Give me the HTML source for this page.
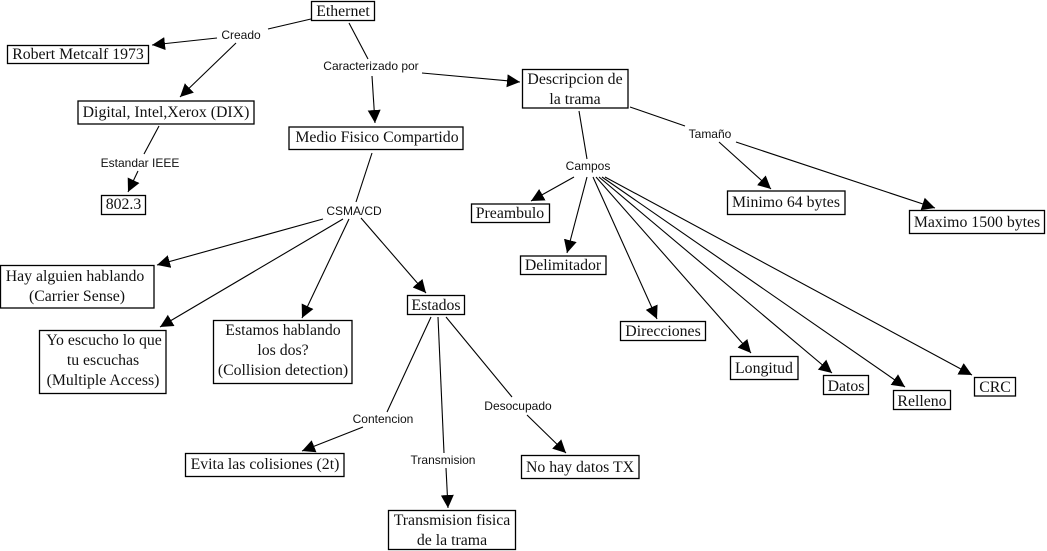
<!DOCTYPE html>
<html><head><meta charset="utf-8"><style>
html,body{margin:0;padding:0;background:#fff;width:1047px;height:551px;overflow:hidden}
svg{display:block}
.n rect{fill:#fff;stroke:#000;stroke-width:1.3}
.n text{font-family:"Liberation Serif",serif;font-size:15.8px;fill:#111;text-anchor:middle}
.l text{font-family:"Liberation Sans",sans-serif;font-size:12px;fill:#111;text-anchor:middle}
.e line{stroke:#000;stroke-width:1.1}
.a line{marker-end:url(#h)}
</style></head><body>
<svg width="1047" height="551" viewBox="0 0 1047 551" xmlns="http://www.w3.org/2000/svg">
<defs><marker id="h" markerUnits="userSpaceOnUse" markerWidth="16" markerHeight="16" refX="13" refY="6.5" orient="auto"><path d="M0 0L13 6.5L0 13z" fill="#000"/></marker></defs>
<g class="e">
<line x1="311" y1="19" x2="268" y2="29"/>
<line x1="159" y1="126" x2="144" y2="154"/>
<line x1="349" y1="23" x2="368" y2="59"/>
<line x1="579" y1="111" x2="587" y2="159"/>
<line x1="630" y1="107" x2="685" y2="126"/>
<line x1="372" y1="153" x2="356" y2="202"/>
<line x1="431" y1="317" x2="387" y2="412"/>
<line x1="438" y1="317" x2="444" y2="453"/>
<line x1="446" y1="317" x2="512" y2="397"/>
</g>
<g class="e a">
<line x1="217" y1="38" x2="152" y2="45"/>
<line x1="236" y1="43" x2="180" y2="97"/>
<line x1="138" y1="171" x2="128" y2="192"/>
<line x1="372" y1="76" x2="375" y2="123"/>
<line x1="422" y1="73" x2="520" y2="82"/>
<line x1="719" y1="142" x2="771" y2="189"/>
<line x1="736" y1="142" x2="935" y2="208"/>
<line x1="574" y1="177" x2="531" y2="201"/>
<line x1="587" y1="177" x2="567" y2="253"/>
<line x1="593" y1="177" x2="657" y2="319"/>
<line x1="596" y1="177" x2="751" y2="353"/>
<line x1="599" y1="177" x2="832" y2="373"/>
<line x1="602" y1="177" x2="905" y2="387"/>
<line x1="605" y1="177" x2="972" y2="375"/>
<line x1="323" y1="219" x2="157" y2="265"/>
<line x1="343" y1="219" x2="160" y2="327"/>
<line x1="349" y1="219" x2="302" y2="318"/>
<line x1="361" y1="218" x2="426" y2="293"/>
<line x1="363" y1="427" x2="302" y2="451"/>
<line x1="446" y1="468" x2="448" y2="508"/>
<line x1="527" y1="415" x2="566" y2="453"/>
</g>
<g class="n">
<rect x="311.5" y="1.5" width="63" height="19"/><text x="343" y="16">Ethernet</text>
<rect x="7.5" y="45.5" width="141" height="18"/><text x="78" y="59">Robert Metcalf 1973</text>
<rect x="78" y="101" width="176" height="23"/><text x="166" y="117">Digital, Intel,Xerox (DIX)</text>
<rect x="101.5" y="195.5" width="44" height="19"/><text x="123.500" y="209">802.3</text>
<rect x="289" y="127" width="174" height="22.500"/><text x="377" y="142">Medio Fisico Compartido</text>
<rect x="522.500" y="69.500" width="105.500" height="38.500"/><text x="575" y="84">Descripcion de</text><text x="575" y="104">la trama</text>
<rect x="471.500" y="204" width="78" height="18.500"/><text x="510" y="218">Preambulo</text>
<rect x="520.500" y="256" width="85.500" height="18.500"/><text x="563" y="270">Delimitador</text>
<rect x="727.500" y="191" width="117.500" height="23.500"/><text x="786" y="207">Minimo 64 bytes</text>
<rect x="909.500" y="210.500" width="135" height="23"/><text x="977" y="227">Maximo 1500 bytes</text>
<rect x="620.500" y="321.500" width="85" height="19"/><text x="663" y="336">Direcciones</text>
<rect x="730.500" y="356.500" width="67.500" height="23"/><text x="764" y="373">Longitud</text>
<rect x="823.500" y="375.500" width="45" height="19"/><text x="846" y="391">Datos</text>
<rect x="893.500" y="390.500" width="57" height="19"/><text x="922" y="406">Relleno</text>
<rect x="974.500" y="377.500" width="41" height="18.500"/><text x="995" y="392">CRC</text>
<rect x="0.500" y="265.500" width="153.500" height="42.500"/><text x="75" y="281">Hay alguien hablando</text><text x="77" y="301">(Carrier Sense)</text>
<rect x="39.500" y="330.500" width="126.500" height="63"/><text x="104" y="345">Yo escucho lo que</text><text x="103" y="365">tu escuchas</text><text x="103" y="385">(Multiple Access)</text>
<rect x="213.500" y="320.500" width="138.500" height="63"/><text x="283" y="335">Estamos hablando</text><text x="283" y="355">los dos?</text><text x="283" y="375">(Collision detection)</text>
<rect x="185.500" y="453.500" width="158.500" height="23"/><text x="265" y="469">Evita las colisiones (2t)</text>
<rect x="407.500" y="295.500" width="57" height="19"/><text x="436" y="310">Estados</text>
<rect x="388.500" y="510.500" width="127" height="39"/><text x="452" y="525">Transmision fisica</text><text x="452" y="545">de la trama</text>
<rect x="521.500" y="455.500" width="117.500" height="23"/><text x="580" y="472">No hay datos TX</text>
</g>
<g class="l">
<text x="241" y="39">Creado</text>
<text x="140" y="167">Estandar IEEE</text>
<text x="371" y="70">Caracterizado por</text>
<text x="710" y="138">Tamaño</text>
<text x="588" y="170">Campos</text>
<text x="354" y="215">CSMA/CD</text>
<text x="383" y="423">Contencion</text>
<text x="443" y="464">Transmision</text>
<text x="518" y="410">Desocupado</text>
</g>
</svg>
</body></html>
